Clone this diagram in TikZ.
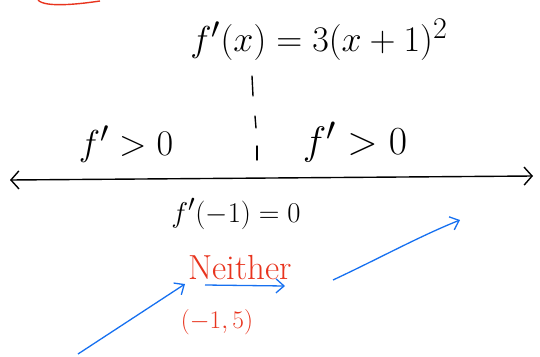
\documentclass[tikz,border=0pt]{standalone}
\usepackage{graphicx}
\usetikzlibrary{arrows.meta}
\definecolor{penred}{RGB}{232,52,30}
\definecolor{penblue}{RGB}{22,112,240}
\newcommand{\bigink}[2][1.38]{\scalebox{#1}{\Huge #2}}
\tikzset{
  ink/.style={line width=1.4pt, line cap=round},
  bigtext/.style={inner sep=0pt},
  redtext/.style={bigtext, text=penred},
  bluearrow/.style={penblue, line width=1.3pt, -{Straight Barb[length=8pt, width=14pt]}}
}
\begin{document}
\begin{tikzpicture}[x=1pt, y=-1pt]
      \useasboundingbox (0,0) rectangle (540,356);
      \coordinate (L) at (10, 180);
      \coordinate (R) at (533, 176);
      \coordinate (T1) at (252, 76);
      \coordinate (T2) at (253, 96);
      \coordinate (T3) at (255, 116);
      \coordinate (T4) at (256, 128);
      \coordinate (T5) at (257, 146);
      \coordinate (T6) at (257, 160);
      \node[bigtext] (deriv) at (319, 40) {\bigink[1.45]{$f'(x)=3(x+1)^2$}};
      \node[bigtext] (leftpos) at (126, 144) {\bigink[1.45]{$f'>0$}};
      \node[bigtext] (rightpos) at (355, 142) {\bigink[1.6]{$f'>0$}};
      \node[bigtext] (zero) at (236, 214) {\bigink[1.15]{$f'(-1)=0$}};
      \node[redtext] (neither) at (240, 268) {\bigink[1.4]{Neither}};
      \node[redtext] (point) at (217, 322) {\bigink[1.02]{$(-1,5)$}};
      \draw[ink, {Straight Barb[length=8pt, width=18pt]}-{Straight Barb[length=8pt, width=18pt]}] (L) -- (R);
      \draw[ink] (T1) -- (T2);
      \draw[ink] (T3) -- (T4);
      \draw[ink] (T5) -- (T6);
      \draw[penred, line width=1.4pt] (38, 0) .. controls (45, 8) and (80, 4) .. (100, 1);
      \coordinate (a1) at (78, 354);
      \coordinate (a2) at (185, 284);
      \coordinate (b1) at (205, 285);
      \coordinate (b2) at (285, 286);
      \coordinate (c1) at (333, 280);
      \coordinate (c2) at (460, 220);
      \draw[bluearrow] (a1) -- (a2);
      \draw[bluearrow] (b1) -- (b2);
      \draw[bluearrow] (c1) .. controls (380, 258) and (420, 236) .. (c2);
    \end{tikzpicture}
\end{document}
